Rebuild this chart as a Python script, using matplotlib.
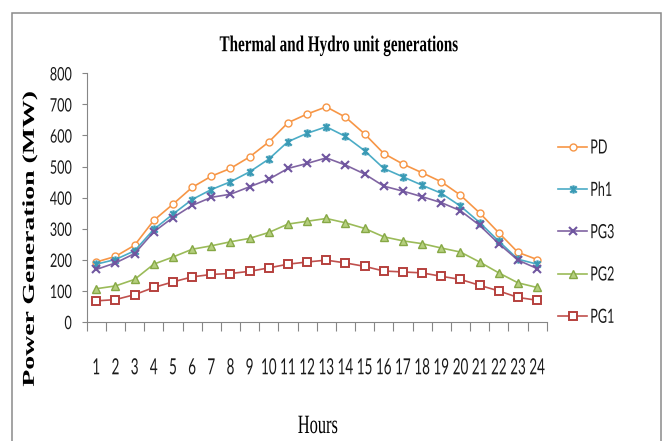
import numpy as np
import matplotlib
matplotlib.use("Agg")
import matplotlib.pyplot as plt
from matplotlib.patheffects import AbstractPathEffect
from matplotlib.transforms import Affine2D
from matplotlib.path import Path
from matplotlib.patches import Rectangle

# ---- data ----
hours = list(range(1, 25))
hour_labels = [str(h) for h in hours]
PD  = [193, 211, 247, 327, 379, 433, 469, 494, 531, 579, 641, 669, 692, 659, 605, 542, 508, 480, 451, 408, 351, 287, 224, 201]
Ph1 = [186, 201, 229, 298, 347, 394, 426, 451, 483, 524, 580, 607, 628, 597, 551, 494, 467, 440, 414, 373, 320, 260, 202, 186]
PG3 = [169, 190, 220, 290, 336, 375, 401, 411, 435, 459, 494, 510, 528, 505, 476, 437, 421, 403, 384, 358, 311, 252, 199, 172]
PG2 = [107, 116, 137, 186, 209, 234, 245, 258, 269, 288, 315, 324, 333, 319, 301, 274, 261, 252, 238, 225, 193, 158, 126, 111]
PG1 = [68, 72, 88, 111, 129, 145, 153, 156, 163, 174, 186, 193, 199, 190, 179, 164, 161, 158, 147, 137, 118, 100, 79, 70]
y_ticks = list(range(0, 801, 100))

W, H = 668, 441


class Stretch(AbstractPathEffect):
    """Rescale text glyphs in display space (condensed / tall lettering)."""
    def __init__(self, sx=1.0, sy=1.0, width=None, anchor_x="center"):
        super().__init__()
        self.sx = sx
        self.sy = sy
        self.width = width
        self.anchor_x = anchor_x

    def draw_path(self, renderer, gc, tpath, affine, rgbFace=None):
        bb = tpath.get_extents(affine)
        sx = self.sx
        if self.width is not None and bb.width > 0:
            sx = self.width / bb.width
        if self.anchor_x == "left":
            cx = bb.x0
        elif self.anchor_x == "right":
            cx = bb.x1
        else:
            cx = 0.5 * (bb.x0 + bb.x1)
        cy = 0.5 * (bb.y0 + bb.y1)
        t = affine + Affine2D().translate(-cx, -cy).scale(sx, self.sy).translate(cx, cy)
        renderer.draw_path(gc, tpath, t, rgbFace)


# Excel-like star marker: X plus vertical bar
star_verts = [(-1, -1), (1, 1), (-1, 1), (1, -1), (0, -1.3), (0, 1.3)]
star_codes = [Path.MOVETO, Path.LINETO, Path.MOVETO, Path.LINETO, Path.MOVETO, Path.LINETO]
star_marker = Path(star_verts, star_codes)

fig = plt.figure(figsize=(W / 100, H / 100), dpi=100)
fig.patch.set_facecolor("white")
ax = fig.add_axes([86.7 / W, 1 - 322 / H, (546.7 - 86.7) / W, (322 - 73.3) / H])

lw = 1.2
series = [
    ("PD", PD, "#F79646", dict(marker="o", ms=5, mfc="white", mec="#F79646", mew=1.0)),
    ("Ph1", Ph1, "#4BACC6", dict(marker=star_marker, ms=6, mec="#3A9AB5", mew=1.6)),
    ("PG3", PG3, "#8064A2", dict(marker="x", ms=5.5, mec="#7056A0", mew=1.5)),
    ("PG2", PG2, "#9BBB59", dict(marker="^", ms=6, mfc="#B5CF7E", mec="#86A845", mew=1.0)),
    ("PG1", PG1, "#C0504D", dict(marker="s", ms=5.5, mfc="white", mec="#B5403D", mew=1.4)),
]
for name, vals, col, mk in series:
    ax.plot(hours, vals, color=col, lw=lw, label=name, **mk)

ax.set_xlim(0.5, 24.5)
ax.set_ylim(0, 800)

axcol = "#868686"
for s in ["top", "right"]:
    ax.spines[s].set_visible(False)
for s in ["left", "bottom"]:
    ax.spines[s].set_color(axcol)
    ax.spines[s].set_linewidth(0.8)

ax.set_yticks(y_ticks)
ax.set_yticklabels([str(v) for v in y_ticks])
ax.tick_params(axis="y", which="major", length=3.6, width=0.8, color=axcol,
               pad=7.2, labelsize=9.1, labelcolor="#1a1a1a", direction="out")

ax.set_xticks(hours)
ax.set_xticklabels(hour_labels)
ax.set_xticks(np.arange(0.5, 25, 1), minor=True)
ax.tick_params(axis="x", which="major", length=0, pad=32.5, labelsize=9.7,
               labelcolor="#1a1a1a")
ax.tick_params(axis="x", which="minor", length=6.5, width=0.8, color=axcol,
               direction="out")

for lbl in ax.get_yticklabels():
    lbl.set_fontfamily("Lato")
    lbl.set_path_effects([Stretch(1.0, 1.47, anchor_x="right")])
for lbl in ax.get_xticklabels():
    lbl.set_fontfamily("Lato")
    lbl.set_va("center")
    lbl.set_path_effects([Stretch(1.0, 1.65, anchor_x="center")])

leg = ax.legend(loc="upper left", bbox_to_anchor=(558 / W, 1 - 141 / H),
                bbox_transform=fig.transFigure, frameon=False,
                prop={"family": "Lato", "size": 9.1}, handlelength=2.3,
                handletextpad=0.25, labelspacing=2.4, borderpad=0,
                borderaxespad=0)
for t in leg.get_texts():
    t.set_color("#1a1a1a")
    t.set_path_effects([Stretch(1.0, 1.55, anchor_x="left")])

fig.text(339 / W, 1 - 45.7 / H, "Thermal and Hydro unit generations",
         ha="center", va="center", family="Liberation Serif", weight="bold",
         fontsize=16.3, path_effects=[Stretch(width=238)])
fig.text(318 / W, 1 - 427 / H, "Hours", ha="center", va="center",
         family="Liberation Serif", fontsize=19, path_effects=[Stretch(width=39)])
fig.text(30 / W, 1 - 239 / H, "Power Generation (MW)", rotation=90,
         ha="center", va="center", family="Liberation Serif", weight="bold",
         fontsize=20, path_effects=[Stretch(0.6)])

border = Rectangle((12.5 / W, -0.05), (660.5 - 12.5) / W, 1.05 - 12.5 / H,
                   transform=fig.transFigure, fill=False, edgecolor="#8a8a8a",
                   linewidth=1.1)
fig.add_artist(border)

fig.savefig("out.png", dpi=100, facecolor="white")
